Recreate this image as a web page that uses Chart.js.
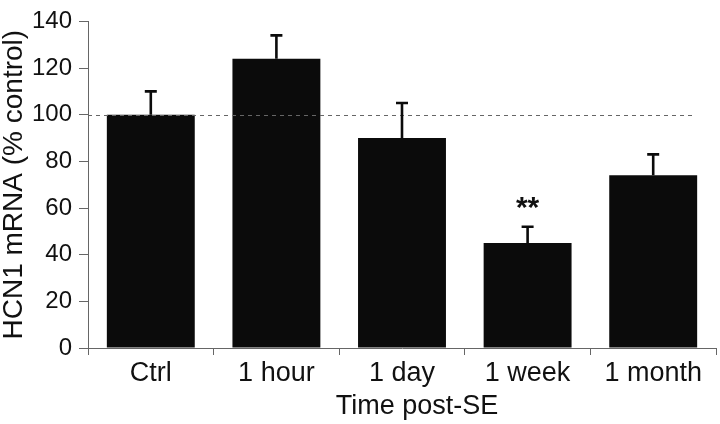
<!DOCTYPE html>
<html>
<head>
<meta charset="utf-8">
<script src="https://cdn.jsdelivr.net/npm/chart.js@4"></script>
<style>
  body{margin:0;background:#fff;}
  #wrap{width:720px;height:424px;}
</style>
</head>
<body>
<div id="wrap"><canvas id="hcnChart" width="720" height="424"></canvas></div>
<script>
const categories=["Ctrl","1 hour","1 day","1 week","1 month"];
const values=[100,124,90,45,74];
const errors=[10,10,15,7,9];
const marks=["","","","**",""];
const refLine=100;
const yTicks=[0,20,40,60,80,100,120,140];

const FONT="'Liberation Sans', Arial, Helvetica, sans-serif";

// upper error bars, significance stars and the 100% line
const extras={
  id:"extras",
  afterDatasetsDraw(chart){
    const ctx=chart.ctx;
    const y=chart.scales.y;
    const meta=chart.getDatasetMeta(0);
    ctx.save();
    // dashed reference line
    ctx.strokeStyle="#666";
    ctx.lineWidth=1;
    ctx.setLineDash([4,4]);
    const ry=Math.round(y.getPixelForValue(refLine))+0.5;
    ctx.beginPath();
    ctx.moveTo(chart.chartArea.left,ry);
    ctx.lineTo(chart.chartArea.right-22,ry);
    ctx.stroke();
    ctx.setLineDash([]);

    ctx.strokeStyle="#0b0b0b";
    ctx.lineWidth=2.6;
    meta.data.forEach((bar,i)=>{
      const top=y.getPixelForValue(values[i]+errors[i]);
      ctx.beginPath();
      ctx.moveTo(bar.x,bar.y);
      ctx.lineTo(bar.x,top);
      ctx.moveTo(bar.x-6,top);
      ctx.lineTo(bar.x+6,top);
      ctx.stroke();
      if(marks[i]){
        ctx.fillStyle="#111";
        ctx.font="bold 30px "+FONT;
        ctx.textAlign="center";
        ctx.textBaseline="alphabetic";
        ctx.fillText(marks[i],bar.x,top-10);
      }
    });

    // x axis title, sits a bit right of centre in the original
    const ca=chart.chartArea;
    ctx.fillStyle="#111";
    ctx.font="27px "+FONT;
    ctx.textAlign="center";
    ctx.textBaseline="middle";
    ctx.fillText("Time post-SE",(ca.left+ca.right)/2+15,407);
    ctx.restore();
  }
};

new Chart(document.getElementById("hcnChart"),{
  type:"bar",
  data:{
    labels:categories,
    datasets:[{
      data:values,
      backgroundColor:"#0b0b0b",
      borderWidth:0,
      categoryPercentage:1,
      barPercentage:0.7
    }]
  },
  options:{
    responsive:false,
    animation:false,
    events:[],
    layout:{padding:{left:0,right:4,top:16,bottom:0}},
    plugins:{legend:{display:false},tooltip:{enabled:false}},
    scales:{
      x:{
        grid:{drawOnChartArea:false,drawTicks:true,tickLength:7,color:"#666",offset:true},
        border:{display:true,color:"#666",width:1},
        ticks:{color:"#111",font:{family:FONT,size:27},padding:2,maxRotation:0},
        afterFit(scale){scale.height=76;}
      },
      y:{
        min:0,max:140,
        afterBuildTicks(scale){scale.ticks=yTicks.map(v=>({value:v}));},
        grid:{drawOnChartArea:false,drawTicks:true,tickLength:9,color:"#666"},
        border:{display:true,color:"#666",width:1},
        ticks:{color:"#111",font:{family:FONT,size:24},padding:7},
        title:{display:true,text:"HCN1 mRNA (% control)",color:"#111",
          font:{family:FONT,size:28,lineHeight:1},padding:0},
        afterFit(scale){scale.width=88;}
      }
    }
  },
  plugins:[extras]
});
</script>
</body>
</html>
